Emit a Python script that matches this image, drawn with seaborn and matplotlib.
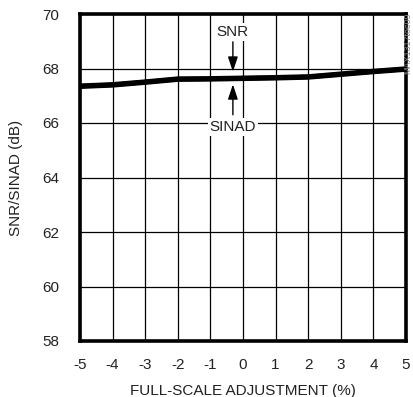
import matplotlib
matplotlib.use("Agg")
import matplotlib.pyplot as plt
import seaborn as sns
import pandas as pd

adjust = [-5, -4, -3, -2, -1, 0, 1, 2, 3, 4, 5]
snr = [67.36, 67.41, 67.51, 67.62, 67.63, 67.65, 67.67, 67.70, 67.80, 67.90, 67.99]
sinad = [67.34, 67.39, 67.49, 67.60, 67.61, 67.63, 67.65, 67.68, 67.78, 67.88, 67.97]
xticks = [-5, -4, -3, -2, -1, 0, 1, 2, 3, 4, 5]
yticks = [58, 60, 62, 64, 66, 68, 70]

sns.set_style("white")
plt.rcParams['font.family'] = ['Liberation Sans Narrow', 'Liberation Sans', 'DejaVu Sans']

df = pd.DataFrame({"adj": adjust + adjust,
                   "val": snr + sinad,
                   "series": ["SNR"] * len(adjust) + ["SINAD"] * len(adjust)})

fig = plt.figure(figsize=(4.14, 3.97), dpi=100)
ax = fig.add_axes([80 / 414, 1 - 341 / 397, 326 / 414, 327 / 397])

sns.lineplot(data=df, x="adj", y="val", units="series", estimator=None,
             color="black", linewidth=3.6, ax=ax, legend=False, zorder=3)

ax.set_xlim(-5, 5)
ax.set_ylim(58, 70)
ax.set_xticks(xticks)
ax.set_yticks(yticks)
ax.set_xticklabels([str(t) for t in xticks], fontsize=11, color="#222222")
ax.set_yticklabels([str(t) for t in yticks], fontsize=11, color="#222222")
ax.tick_params(axis="x", length=0, pad=12)
ax.tick_params(axis="y", length=0, pad=15)
ax.grid(True, color="black", linewidth=0.9)
for s in ax.spines.values():
    s.set_visible(True)
    s.set_linewidth(2.6)
    s.set_color("black")

ax.set_xlabel("FULL-SCALE ADJUSTMENT (%)", fontsize=11, color="#222222", labelpad=9)
ax.set_ylabel("SNR/SINAD (dB)", fontsize=11, color="#222222", labelpad=14)

ax_x = -0.31
ax.annotate("", xy=(ax_x, 67.78), xytext=(ax_x, 69.08),
            arrowprops=dict(arrowstyle="-|>,head_length=0.9,head_width=0.3",
                            color="black", lw=1.0), zorder=4)
ax.annotate("", xy=(ax_x, 67.52), xytext=(ax_x, 66.2),
            arrowprops=dict(arrowstyle="-|>,head_length=0.9,head_width=0.3",
                            color="black", lw=1.0), zorder=4)
ax.text(ax_x, 69.35, "SNR", ha="center", va="center", fontsize=11, color="#222222",
        bbox=dict(facecolor="white", edgecolor="none", pad=1.5), zorder=5)
ax.text(ax_x, 65.85, "SINAD", ha="center", va="center", fontsize=11, color="#222222",
        bbox=dict(facecolor="white", edgecolor="none", pad=1.5), zorder=5)

fig.text(408 / 414, 1 - 13 / 397, "MAX1317toc09", rotation=90, ha="center", va="top",
         fontsize=6.5, color="#888888")

fig.savefig("out.png", dpi=100)
